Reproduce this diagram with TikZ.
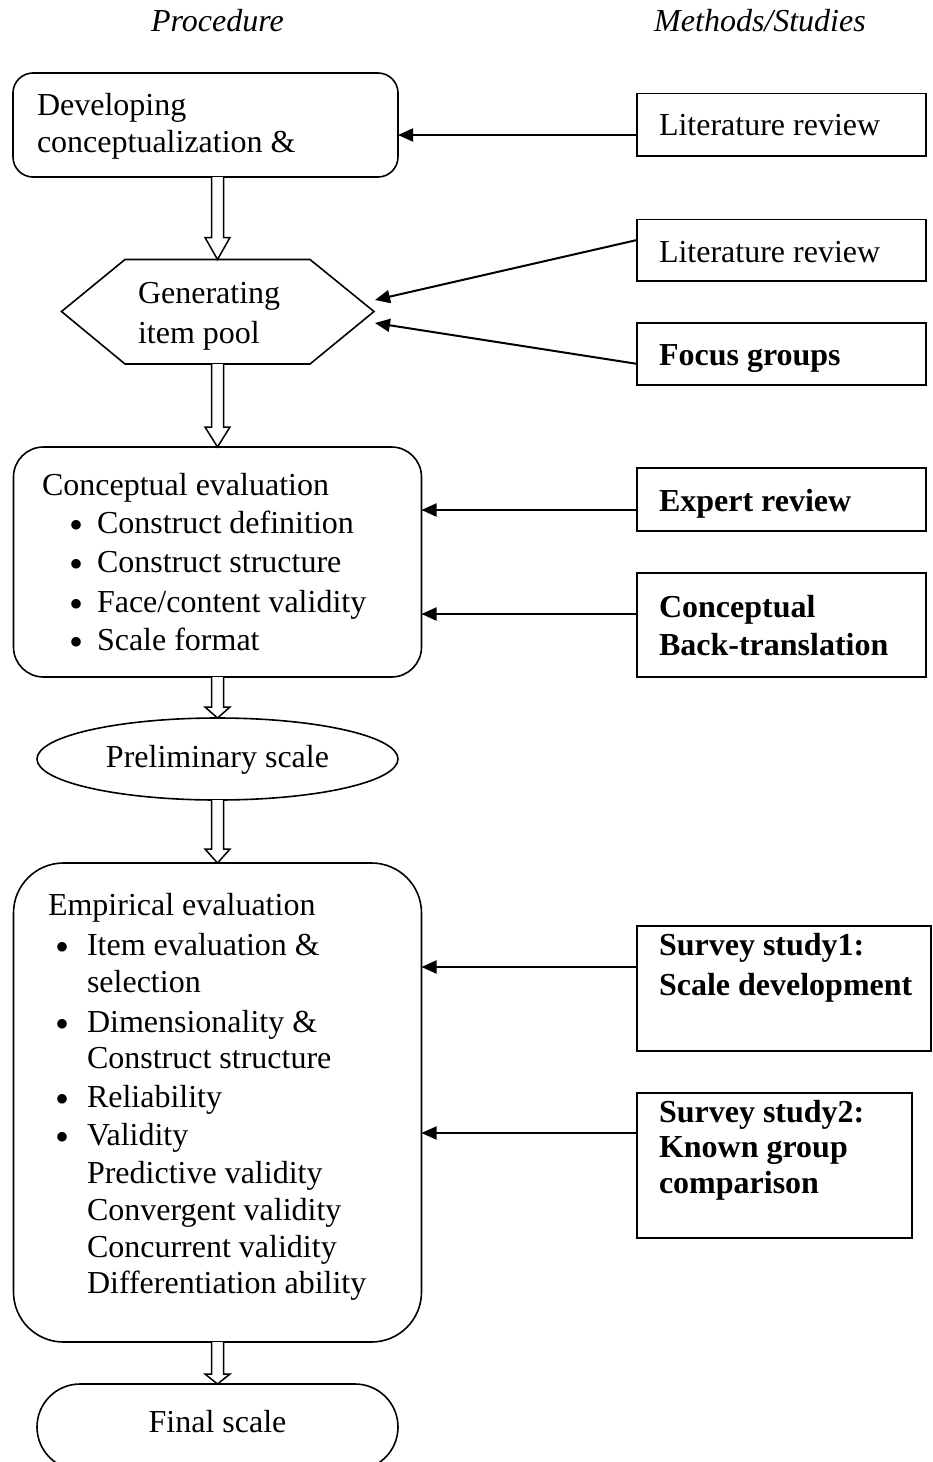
\documentclass[tikz,border=0pt]{standalone}
\usepackage{fontspec}
\setmainfont{Liberation Serif}
\usetikzlibrary{arrows.meta,shapes.geometric,calc}

% hollow block arrow: start point, tip point, head length
\newcommand\hollowarrow[3]{%
  \path[hollow] let \p1=#1, \p2=#2 in
    (\x2-6pt,\y1) -- (\x2-6pt,\y2+#3) -- (\x2-12.5pt,\y2+#3) -- (\x2,\y2)
    -- (\x2+12.5pt,\y2+#3) -- (\x2+6pt,\y2+#3) -- (\x2+6pt,\y1);}

\begin{document}
\begin{tikzpicture}[x=1pt,y=-1pt,
  font=\fontsize{32}{38}\selectfont,
  every node/.style={inner sep=0pt, outer sep=0pt},
  shapeline/.style={draw=black, line width=1.6pt},
  procbox/.style={shapeline, rectangle},
  methbox/.style={shapeline, rectangle, minimum width=289pt},
  txt/.style={anchor=base west},
  btxt/.style={anchor=base west, font=\fontsize{32}{38}\selectfont\bfseries},
  dot/.style={anchor=base, font=\fontsize{40}{40}\selectfont},
  head/.style={anchor=base, font=\fontsize{32}{38}\selectfont\itshape},
  link/.style={line width=2pt, -{Triangle[length=15pt,width=13pt]}},
  hollow/.style={draw=black, line width=1.5pt, fill=white, line join=miter}
]
\useasboundingbox (0,0) rectangle (932,1462);

% column headings
\node[head] (hproc) at (217.5,31) {Procedure};
\node[head] (hmeth) at (760,31) {Methods/Studies};

% procedure column
\node[procbox, rounded corners=20pt, minimum width=385pt, minimum height=104pt] (dev) at (205.5,125) {};

\coordinate (hexT) at (217.5,259.5);
\coordinate (hexB) at (217.5,364);
\coordinate (hexR) at (374,311.5);
\coordinate (hexL) at (61.5,311.5);
\coordinate (hexRa) at (375,300);
\coordinate (hexRb) at (375,323);
\draw[shapeline, line join=miter] (125,259.5) -- (310,259.5) -- (hexR) -- (310,364) -- (125,364) -- (hexL) -- cycle;

\node[procbox, rounded corners=30pt, minimum width=408pt, minimum height=230pt] (conc) at (217.5,562) {};
\node[shapeline, ellipse, minimum width=361pt, minimum height=82pt] (prelim) at (217.5,759) {};
\node[procbox, rounded corners=50pt, minimum width=408pt, minimum height=479pt] (emp) at (217.5,1102.5) {};
\node[procbox, rounded corners=43pt, minimum width=361pt, minimum height=86pt] (fin) at (217.5,1427) {};

% methods column
\node[methbox, minimum height=62.5pt] (m1) at (781.5,124.75) {};
\node[methbox, minimum height=61.4pt] (m2) at (781.5,250) {};
\node[methbox, minimum height=62.3pt] (m3) at (781.5,353.85) {};
\node[methbox, minimum height=63pt] (m4) at (781.5,499.5) {};
\node[methbox, minimum height=104pt] (m5) at (781.5,625) {};
\node[methbox, minimum width=294pt, minimum height=125pt] (m6) at (784,988.5) {};
\node[methbox, minimum width=275pt, minimum height=145pt] (m7) at (774.5,1165.5) {};

% texts of the procedure column
\node[txt] (t1a) at (37,115) {Developing};
\node[txt] (t1b) at (37,152) {conceptualization \&};
\node[txt] (t2a) at (138,303) {Generating};
\node[txt] (t2b) at (138,343) {item pool};

\node[txt] (t3) at (42,495) {Conceptual evaluation};
\node[dot] (d3a) at (77,538) {•};
\node[txt] (t3a) at (97,533) {Construct definition};
\node[dot] (d3b) at (77,577) {•};
\node[txt] (t3b) at (97,572) {Construct structure};
\node[dot] (d3c) at (77,617) {•};
\node[txt] (t3c) at (97,612) {Face/content validity};
\node[dot] (d3d) at (77,655) {•};
\node[txt] (t3d) at (97,650) {Scale format};

\node[anchor=base] (t4) at (217.5,767) {Preliminary scale};

\node[txt] (t5) at (48,915) {Empirical evaluation};
\node[dot] (d5a) at (63,960) {•};
\node[txt] (t5a) at (87,955) {Item evaluation \&};
\node[txt] (t5b) at (87,992) {selection};
\node[dot] (d5c) at (63,1037) {•};
\node[txt] (t5c) at (87,1032) {Dimensionality \&};
\node[txt] (t5d) at (87,1068) {Construct structure};
\node[dot] (d5e) at (63,1112) {•};
\node[txt] (t5e) at (87,1107) {Reliability};
\node[dot] (d5f) at (63,1150) {•};
\node[txt] (t5f) at (87,1145) {Validity};
\node[txt] (t5g) at (87,1183) {Predictive validity};
\node[txt] (t5h) at (87,1220) {Convergent validity};
\node[txt] (t5i) at (87,1257) {Concurrent validity};
\node[txt] (t5j) at (87,1293) {Differentiation ability};

\node[anchor=base] (t6) at (217.5,1432) {Final scale};

% texts of the methods column
\node[txt] (s1) at (659,135) {Literature review};
\node[txt] (s2) at (659,262) {Literature review};
\node[btxt] (s3) at (659,365) {Focus groups};
\node[btxt] (s4) at (659,511) {Expert review};
\node[btxt] (s5a) at (659,617) {Conceptual};
\node[btxt] (s5b) at (659,655) {Back-translation};
\node[btxt] (s6a) at (659,955) {Survey study1:};
\node[btxt] (s6b) at (659,995) {Scale development};
\node[btxt] (s7a) at (659,1122) {Survey study2:};
\node[btxt] (s7b) at (659,1157) {Known group};
\node[btxt] (s7c) at (659,1193) {comparison};

% block arrows between the steps
\hollowarrow{(dev.south -| hexT)}{(hexT)}{22pt}
\hollowarrow{(hexB)}{(conc.north)}{20pt}
\hollowarrow{(conc.south)}{(prelim.north)}{11pt}
\hollowarrow{(prelim.south)}{(emp.north)}{14pt}
\hollowarrow{(emp.south)}{(fin.north)}{10pt}

% methods feeding the steps
\draw[link] ([yshift=-10.25pt]m1.west) -- ([yshift=-10.25pt]m1.west -| dev.east);
\draw[link] ([yshift=10pt]m2.west) -- (hexRa);
\draw[link] ([yshift=-10pt]m3.west) -- (hexRb);
\draw[link] ([yshift=-10.5pt]m4.west) -- ([yshift=-10.5pt]m4.west -| conc.east);
\draw[link] ([yshift=11pt]m5.west) -- ([yshift=11pt]m5.west -| conc.east);
\draw[link] ([yshift=21.5pt]m6.west) -- ([yshift=21.5pt]m6.west -| emp.east);
\draw[link] ([yshift=32.5pt]m7.west) -- ([yshift=32.5pt]m7.west -| emp.east);
\end{tikzpicture}
\end{document}
